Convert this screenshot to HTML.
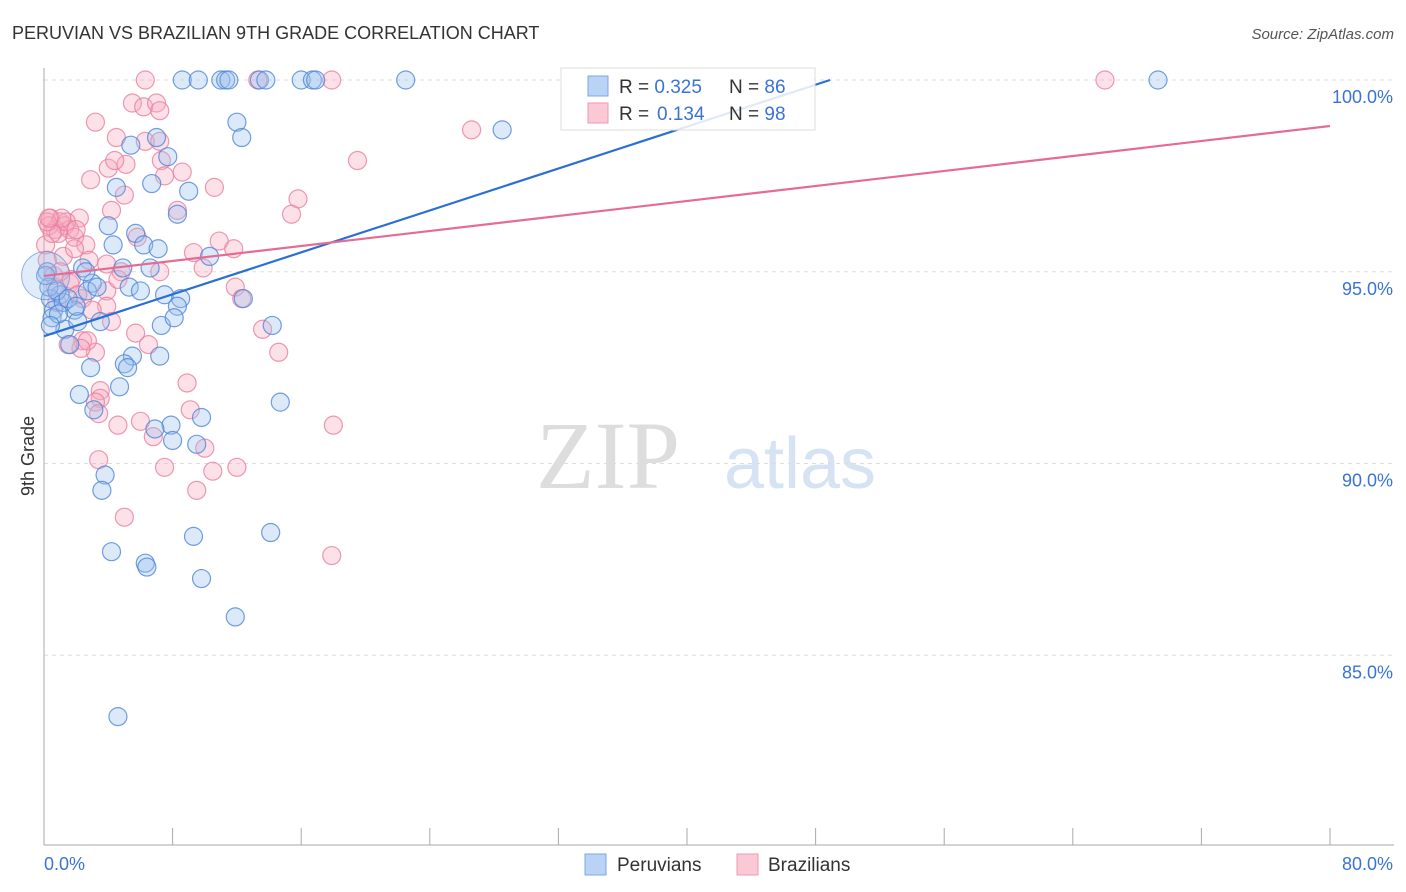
<!DOCTYPE html>
<html><head><meta charset="utf-8"><style>
body{margin:0;background:#fff;font-family:"Liberation Sans",sans-serif;}
svg{display:block}
</style></head><body>
<svg id="chart" width="1406" height="892" xmlns="http://www.w3.org/2000/svg">
<text x="12" y="39" font-size="18" fill="#333">PERUVIAN VS BRAZILIAN 9TH GRADE CORRELATION CHART</text>
<text x="1394" y="39" font-size="15" fill="#555" text-anchor="end" font-style="italic">Source: ZipAtlas.com</text>
<text x="608" y="488" font-size="96" fill="#ddd" font-family="Liberation Serif,serif" text-anchor="middle">ZIP</text>
<text x="800" y="488" font-size="72" fill="#d5e3f5" text-anchor="middle">atlas</text>
<g id="grid"></g>
<g id="axes"></g>
<g id="pts"></g>
<g id="lines"></g>
<text transform="translate(34,456) rotate(-90)" font-size="18" fill="#333" text-anchor="middle">9th Grade</text>
<g>
<rect x="561" y="68" width="254" height="62" fill="#fff" fill-opacity="0.85" stroke="#ddd"/>
<rect x="588" y="76" width="20" height="20" fill="#b9d3f5" stroke="#7aa7e6"/>
<rect x="588" y="103" width="20" height="20" fill="#fbc8d6" stroke="#ee9ab4"/>
<text x="619" y="93" font-size="19" fill="#333">R = <tspan fill="#3a73d4">0.325</tspan><tspan x="729">N = </tspan><tspan fill="#3a73d4">86</tspan></text>
<text x="619" y="120" font-size="19" fill="#333">R = <tspan x="657" fill="#3a73d4">0.134</tspan><tspan x="729">N = </tspan><tspan fill="#3a73d4">98</tspan></text>
</g>
<g>
<rect x="585" y="854" width="21" height="21" fill="#b9d3f5" stroke="#7aa7e6"/>
<text x="617" y="871" font-size="19" fill="#333">Peruvians</text>
<rect x="737" y="854" width="21" height="21" fill="#fbc8d6" stroke="#ee9ab4"/>
<text x="768" y="871" font-size="19" fill="#333">Brazilians</text>
</g>
</svg>
<script>
const NS="http://www.w3.org/2000/svg";
const yTicks=[100,95,90,85];
const yTickLabels=["100.0%","95.0%","90.0%","85.0%"];
const xTickCount=[0,8,16,24,32,40,48,56,64,72,80];
const xLabels=["0.0%","80.0%"];
const peruX=[8.6,9.6,11.0,11.3,11.5,13.4,13.8,16.0,16.7,16.9,22.5,69.3,28.5,12.0,12.3,5.4,7.0,7.7,4.5,9.0,6.7,8.3,4.0,5.7,4.3,6.2,7.1,10.3,2.4,4.9,6.6,3.0,5.3,6.0,7.5,8.5,12.4,8.3,1.0,0.4,0.6,1.9,2.7,1.3,2.1,3.5,7.3,8.1,14.2,1.6,2.9,5.5,5.0,7.2,5.2,2.2,4.7,14.7,3.1,7.9,9.8,6.9,8.0,9.5,3.8,3.6,9.3,4.2,14.1,6.3,6.4,9.8,11.9,4.6,0.2,0.3,0.5,1.2,0.8,0.1,2.6,1.5,0.9,3.3,2.0,0.4];
const peruY=[100,100,100,100,100,100,100,100,100,100,100,100,98.7,98.9,98.5,98.3,98.5,98.0,97.2,97.1,97.3,96.5,96.2,96.0,95.7,95.7,95.6,95.4,95.1,95.1,95.1,94.7,94.6,94.5,94.4,94.3,94.3,94.1,94.4,94.3,94.0,94.0,94.5,93.5,93.7,93.7,93.6,93.8,93.6,93.1,92.5,92.8,92.6,92.8,92.5,91.8,92.0,91.6,91.4,91.0,91.2,90.9,90.6,90.5,89.7,89.3,88.1,87.7,88.2,87.4,87.3,87.0,86.0,83.4,95.0,94.6,93.8,94.2,94.5,94.9,95.0,94.3,93.9,94.6,94.1,93.6];
const brazX=[6.3,13.3,17.9,66.0,3.2,5.5,6.2,7.0,7.2,4.5,6.3,7.2,4.0,5.1,4.4,7.3,8.6,7.5,10.6,19.5,15.8,15.4,2.9,4.2,5.0,0.4,1.0,1.3,2.2,1.6,1.9,0.1,1.2,2.6,5.8,8.3,9.3,10.9,11.8,3.9,4.8,7.2,9.9,11.9,12.3,1.6,0.7,2.4,3.9,3.9,4.2,5.7,3.2,2.4,2.7,14.6,13.6,8.9,3.5,3.5,3.2,9.1,3.4,6.0,6.8,4.6,18.0,3.4,7.5,10.5,12.0,9.5,5.0,17.9,10.0,26.6,0.7,0.2,1.9,0.3,0.9,1.4,2.0,0.5,1.1,2.8,0.6,1.7,0.2,1.0,3.0,2.3,0.8,1.5,4.6,6.5,2.1,0.3];
const brazY=[100,100,100,100,98.9,99.4,99.3,99.4,99.2,98.5,98.4,98.4,97.7,97.8,97.9,97.9,97.6,97.5,97.2,97.9,96.9,96.5,97.4,96.6,97.0,96.4,96.3,96.2,96.4,96.1,95.9,95.7,95.4,95.7,95.9,96.6,95.5,95.8,95.6,95.2,95.0,95.0,95.1,94.6,94.3,94.7,94.6,94.3,94.5,94.1,93.7,93.4,92.9,93.2,93.2,92.9,93.5,92.1,91.9,91.7,91.6,91.4,91.3,91.1,90.7,91.0,91.0,90.1,89.9,89.8,89.9,89.3,88.6,87.6,90.4,98.7,96.1,95.3,95.6,96.2,96.0,96.3,96.1,96.0,96.4,95.3,94.9,94.8,96.3,95.0,94.0,93.0,94.2,93.1,94.8,93.1,94.4,96.4];
const trendPeru=[93.32,100,0,48.9];
const trendBraz=[94.89,98.8,0,80];
const X0=44,X1=1330,Y100=80,PX5=191.75;
const sx=v=>X0+(v/80)*(X1-X0);
const sy=v=>Y100+(100-v)/5*PX5;
function el(t,a,p){const e=document.createElementNS(NS,t);for(const k in a)e.setAttribute(k,a[k]);p.appendChild(e);return e;}
const grid=document.getElementById('grid'),axes=document.getElementById('axes'),pts=document.getElementById('pts'),lines=document.getElementById('lines');
yTicks.forEach((v,i)=>{
 const l=el('line',{x1:X0,x2:1394,y1:sy(v),y2:sy(v),stroke:'#ddd','stroke-dasharray':'4,4'},grid);
 
 
 const t=el('text',{x:1393,y:sy(v)+23,'font-size':18,fill:'#3a73d4','text-anchor':'end'},axes);
 t.textContent=yTickLabels[i];
 
 
});
const ax=el('line',{x1:X0,x2:X0,y1:68,y2:845,stroke:'#aaa'},axes);


const bx=el('line',{x1:X0,x2:1394,y1:845,y2:845,stroke:'#aaa'},axes);


xTickCount.forEach(v=>{
 const t=el('line',{x1:sx(v),x2:sx(v),y1:828,y2:845,stroke:'#aaa'},axes);
 
 
});
const xl0=el('text',{x:44,y:870,'font-size':18,fill:'#3a73d4'},axes);xl0.textContent=xLabels[0];


const xl1=el('text',{x:1393,y:870,'font-size':18,fill:'#3a73d4','text-anchor':'end'},axes);xl1.textContent=xLabels[1];


function dots(xs,ys,fill,stroke,name){xs.forEach((x,i)=>{
 const c=el('circle',{cx:sx(x),cy:sy(ys[i]),r:9,fill:fill,'fill-opacity':0.35,stroke:stroke,'stroke-width':1.2,'stroke-opacity':0.8},pts);
 
 
});}
dots(brazX,brazY,'#f6a8be','#e8809f','point-brazilian');
dots(peruX,peruY,'#9cc0ef','#4f86d8','point-peruvian');
const bc=el('circle',{cx:sx(0.1),cy:sy(94.9),r:24,fill:'#9cc0ef','fill-opacity':0.3,stroke:'#4f86d8','stroke-opacity':0.6},pts);


const tp=el('line',{x1:sx(trendPeru[2]),y1:sy(trendPeru[0]),x2:sx(trendPeru[3]),y2:sy(trendPeru[1]),stroke:'#2a6fd6','stroke-width':2.2},lines);


const tb=el('line',{x1:sx(trendBraz[2]),y1:sy(trendBraz[0]),x2:sx(trendBraz[3]),y2:sy(trendBraz[1]),stroke:'#e66b93','stroke-width':2.2},lines);


</script>
</body></html>
